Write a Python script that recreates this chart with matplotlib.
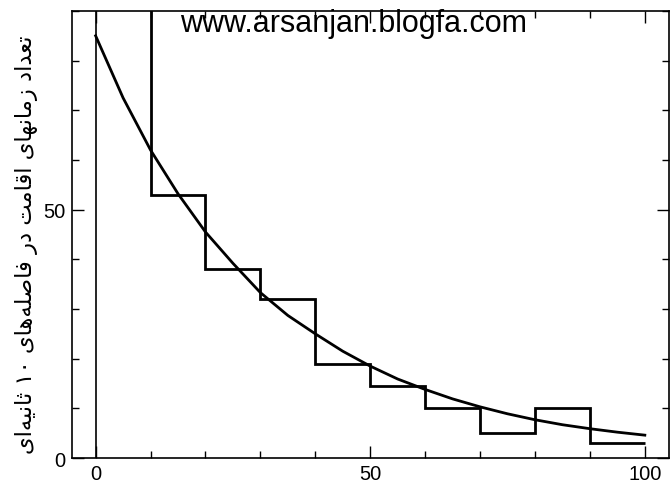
import re
import matplotlib
matplotlib.use('Agg')
import matplotlib.pyplot as plt
from matplotlib.ticker import MultipleLocator, FixedLocator

# histogram of dwell times (10 s bins); first bin runs off the top
bin_edges = [0, 10, 20, 30, 40, 50, 60, 70, 80, 90, 100]
counts = [100, 53, 38, 32, 19, 14.5, 10, 5, 10, 3]

# fitted exponential
curve_x = [0, 5, 10, 15, 20, 25, 30, 35, 40, 45, 50,
           55, 60, 65, 70, 75, 80, 85, 90, 95, 100]
curve_y = [85, 72.5, 62, 53.2, 45.5, 39.2, 33.3, 28.7, 25, 21.5, 18.5,
           15.9, 13.8, 11.9, 10.3, 8.9, 7.7, 6.7, 5.9, 5.2, 4.6]

x_labels = ['0', '50', '100']
y_labels = ['0', '50']

ylabel = 'تعداد زمانهای اقامت در فاصله\u200cهای ۱۰ ثانیه\u200cای'
watermark = 'www.arsanjan.blogfa.com'

# simple persian shaping (no arabic_reshaper available)
AR_FORMS = {
    'ا': ('\uFE8D', '\uFE8E'),
    'د': ('\uFEA9', '\uFEAA'),
    'ر': ('\uFEAD', '\uFEAE'),
    'ز': ('\uFEAF', '\uFEB0'),
    'ت': ('\uFE95', '\uFE96', '\uFE97', '\uFE98'),
    'ث': ('\uFE99', '\uFE9A', '\uFE9B', '\uFE9C'),
    'ص': ('\uFEB9', '\uFEBA', '\uFEBB', '\uFEBC'),
    'ع': ('\uFEC9', '\uFECA', '\uFECB', '\uFECC'),
    'ف': ('\uFED1', '\uFED2', '\uFED3', '\uFED4'),
    'ق': ('\uFED5', '\uFED6', '\uFED7', '\uFED8'),
    'ل': ('\uFEDD', '\uFEDE', '\uFEDF', '\uFEE0'),
    'م': ('\uFEE1', '\uFEE2', '\uFEE3', '\uFEE4'),
    'ن': ('\uFEE5', '\uFEE6', '\uFEE7', '\uFEE8'),
    'ه': ('\uFEE9', '\uFEEA', '\uFEEB', '\uFEEC'),
    'ی': ('\uFBFC', '\uFBFD', '\uFBFE', '\uFBFF'),
}


def shape_fa(text):
    out = []
    for i, ch in enumerate(text):
        forms = AR_FORMS.get(ch)
        if forms is None:
            if ch != '\u200c':
                out.append(ch)
            continue
        prev = text[i - 1] if i > 0 else ''
        nxt = text[i + 1] if i + 1 < len(text) else ''
        join_prev = prev in AR_FORMS and len(AR_FORMS[prev]) == 4
        join_next = len(forms) == 4 and nxt in AR_FORMS
        if join_prev and join_next:
            out.append(forms[3])
        elif join_prev:
            out.append(forms[1])
        elif join_next:
            out.append(forms[2])
        else:
            out.append(forms[0])
    runs = re.findall(r'[0-9\u06F0-\u06F9]+|[^0-9\u06F0-\u06F9]', ''.join(out))
    return ''.join(runs[::-1])


plt.rcParams['font.family'] = ['Liberation Sans', 'DejaVu Sans']

fig = plt.figure(figsize=(6.7, 4.85), dpi=100)
ax = fig.add_axes([0.1075, 0.0536, 0.891, 0.9217])

ax.stairs(counts, bin_edges, baseline=None, color='black', lw=2.0)
ax.vlines(bin_edges[0], 0, counts[0], color='black', lw=1.2)
ax.plot(curve_x, curve_y, color='black', lw=2.0, solid_joinstyle='round')

ax.set_xlim(-4.3, 104.4)
ax.set_ylim(0, 90)

ax.xaxis.set_major_locator(FixedLocator([0, 50, 100]))
ax.xaxis.set_minor_locator(MultipleLocator(10))
ax.yaxis.set_major_locator(FixedLocator([0, 50]))
ax.yaxis.set_minor_locator(MultipleLocator(10))
ax.set_xticklabels(x_labels)
ax.set_yticklabels(y_labels)

ax.tick_params(which='both', direction='in', top=True, right=True,
               width=1.0, labelsize=14.5)
ax.tick_params(which='major', length=8.5)
ax.tick_params(which='minor', length=5)
ax.tick_params(axis='x', pad=4)
ax.tick_params(axis='y', pad=5)
for s in ax.spines.values():
    s.set_linewidth(1.2)

fig.text(0.040, 0.496, shape_fa(ylabel), rotation=90, ha='center',
         va='center', fontsize=16.3, family=['DejaVu Sans'])
fig.text(0.268, 0.934, watermark, ha='left', va='baseline', fontsize=22,
         family=['Liberation Sans'])

fig.savefig('out.png', dpi=100)
